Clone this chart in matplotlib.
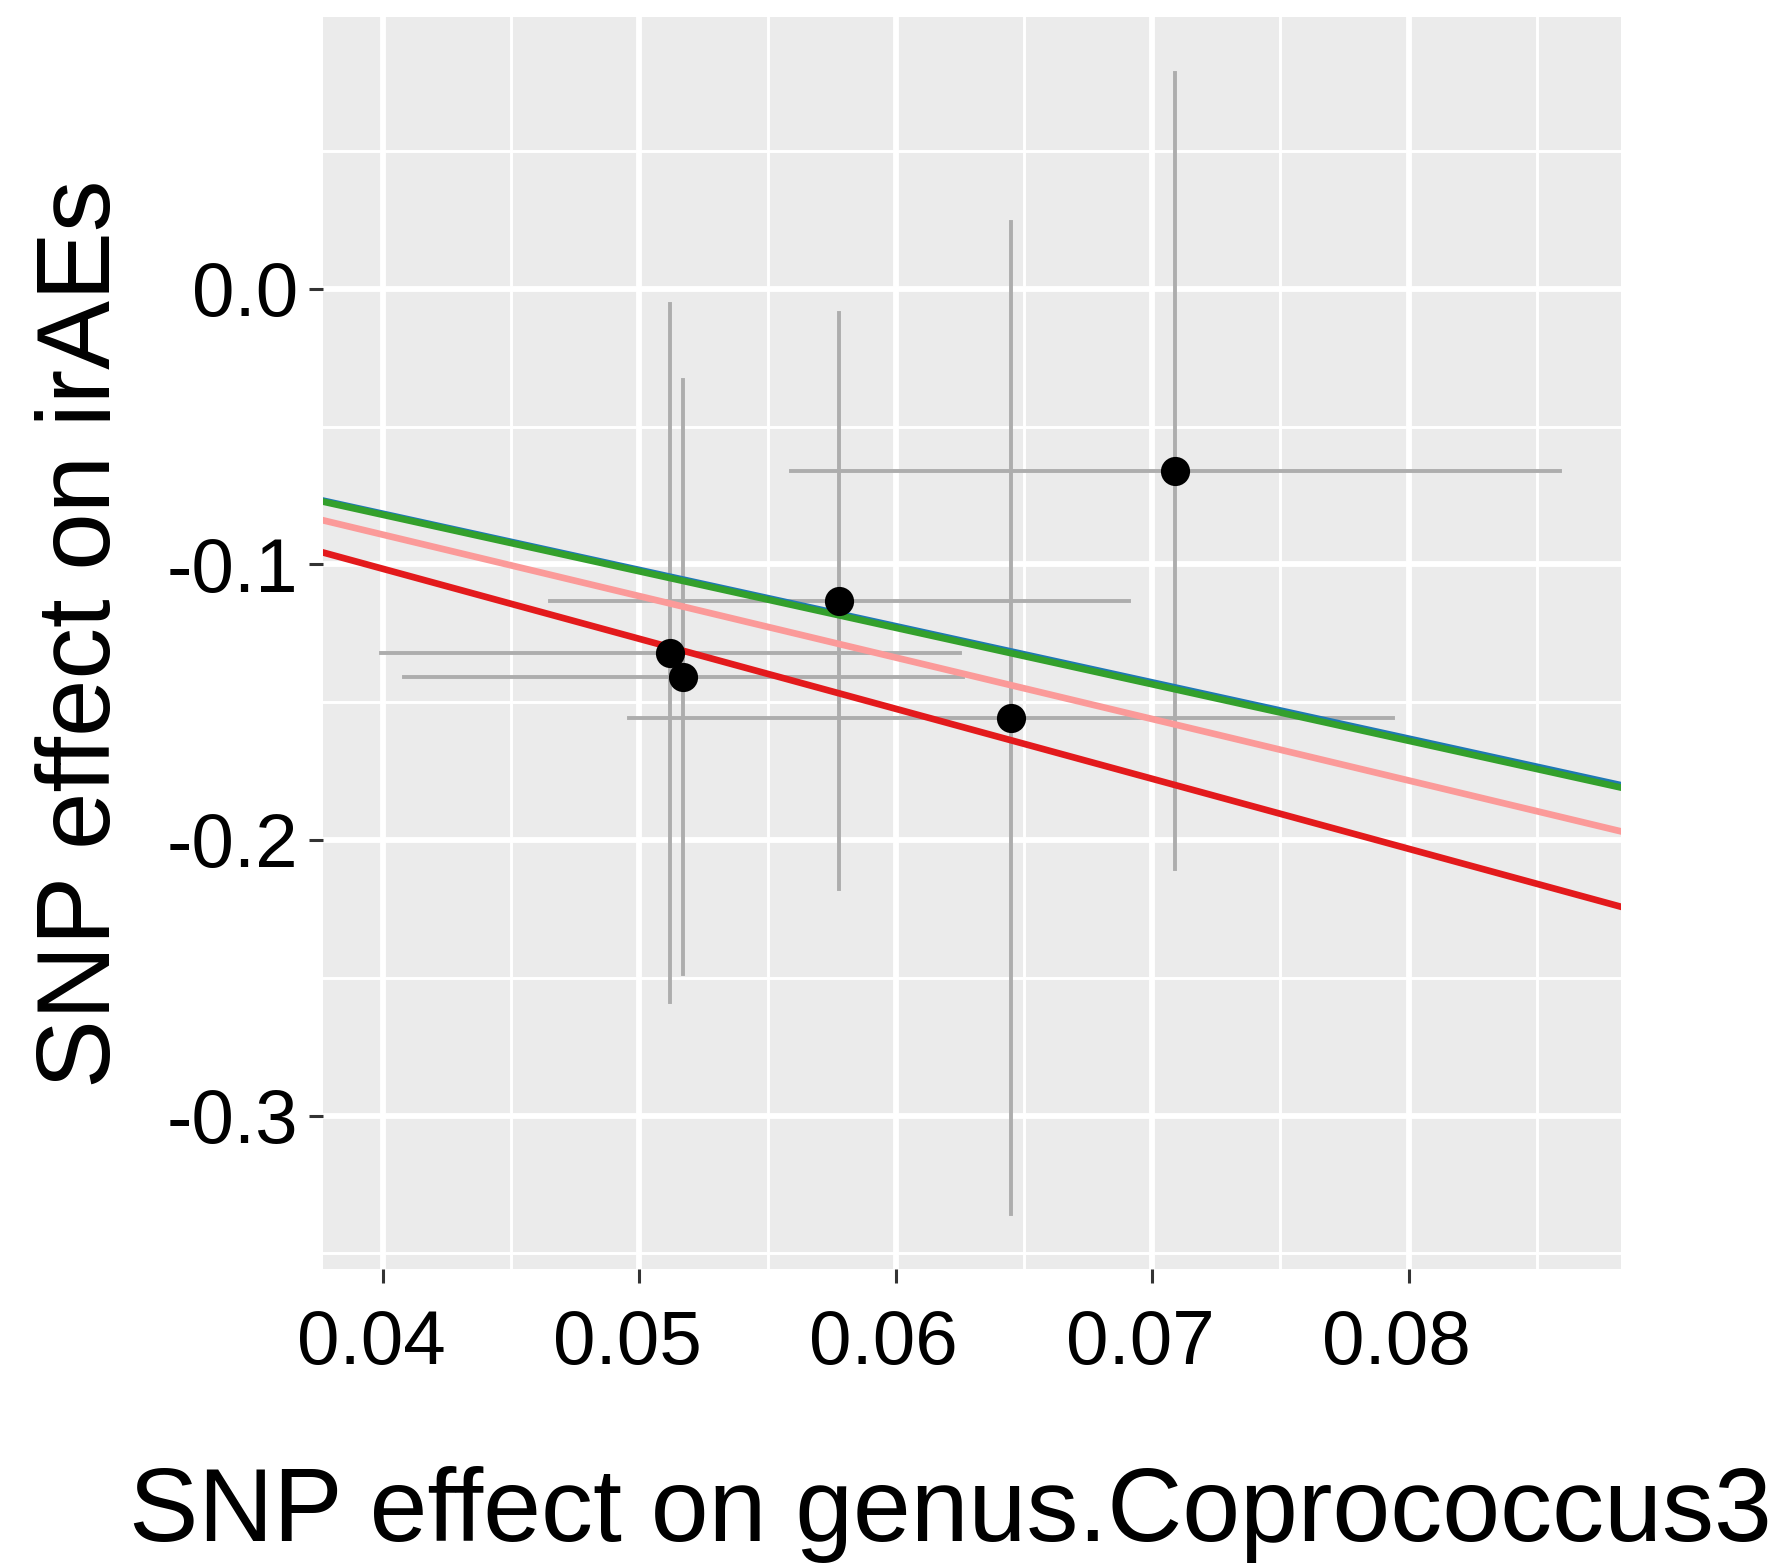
import numpy as np
import matplotlib.pyplot as plt
from matplotlib.transforms import ScaledTranslation

plt.rcParams['font.family'] = ['Liberation Sans', 'DejaVu Sans']

# SNP effects on exposure (x) and outcome (y) with standard errors
snp_x = [0.0512, 0.0517, 0.0578, 0.0645, 0.0709]
snp_y = [-0.1322, -0.1409, -0.1132, -0.1558, -0.0661]
se_x = [0.0113, 0.0109, 0.0113, 0.0149, 0.0150]
se_y = [0.1266, 0.1078, 0.1046, 0.1800, 0.1444]

# MR method slopes (lines through origin)
methods = ['MR Egger', 'Weighted median', 'Inverse variance weighted', 'Weighted mode']
slopes = [-2.04, -2.05, -2.23, -2.54]
colors = ['#1F78B4', '#33A02C', '#FB9A99', '#E31A1C']

xticks = [0.04, 0.05, 0.06, 0.07, 0.08]
yticks = [0.0, -0.1, -0.2, -0.3]

fig = plt.figure(figsize=(8.92, 7.84), dpi=200)
ax = fig.add_axes([0.1811, 0.1907, 0.9086 - 0.1811, 0.98916 - 0.1907])
ax.set_facecolor('#EBEBEB')

xlim = (0.03766, 0.08828)
ylim = (-0.3557, 0.0987)

# grid
for v in np.arange(0.035, 0.09, 0.005):
    major = any(abs(v - t) < 1e-9 for t in xticks)
    ax.axvline(v, color='white', lw=2.1 if major else 1.05, zorder=0)
for v in np.arange(-0.35, 0.1, 0.05):
    major = any(abs(v - t) < 1e-9 for t in yticks)
    ax.axhline(v, color='white', lw=2.1 if major else 1.05, zorder=0)

# error bars
for xi, yi, ex, ey in zip(snp_x, snp_y, se_x, se_y):
    ax.plot([xi - ex, xi + ex], [yi, yi], color='#ADADAD', lw=1.4, zorder=2)
    ax.plot([xi, xi], [yi - ey, yi + ey], color='#ADADAD', lw=1.4, zorder=2)

# method lines
xx = np.array(xlim)
for s, c in zip(slopes, colors):
    ax.plot(xx, s * xx, color=c, lw=2.4, zorder=3)

ax.plot(snp_x, snp_y, 'o', color='black', ms=9.5, zorder=4)

ax.set_xlim(xlim)
ax.set_ylim(ylim)
ax.set_xticks(xticks)
ax.set_xticklabels(['0.04', '0.05', '0.06', '0.07', '0.08'])
ax.set_yticks(yticks)
ax.set_yticklabels(['0.0', '-0.1', '-0.2', '-0.3'])
ax.tick_params(axis='both', length=5, width=1.1, color='#333333',
               labelsize=27.5, labelcolor='black', pad=4)
ax.tick_params(axis='x', pad=9.5)
shift = ScaledTranslation(-12 / 200, 0, fig.dpi_scale_trans)
for lab in ax.get_xticklabels():
    lab.set_transform(lab.get_transform() + shift)
for sp in ax.spines.values():
    sp.set_visible(False)

fig.text(0.533, 0.0172, 'SNP effect on genus.Coprococcus3', fontsize=37.4,
         ha='center', va='baseline')
fig.text(0.0466, 0.5957, 'SNP effect on irAEs', fontsize=37.2, rotation=90,
         ha='center', va='center')

fig.savefig('out.png', dpi=200, facecolor='white')
